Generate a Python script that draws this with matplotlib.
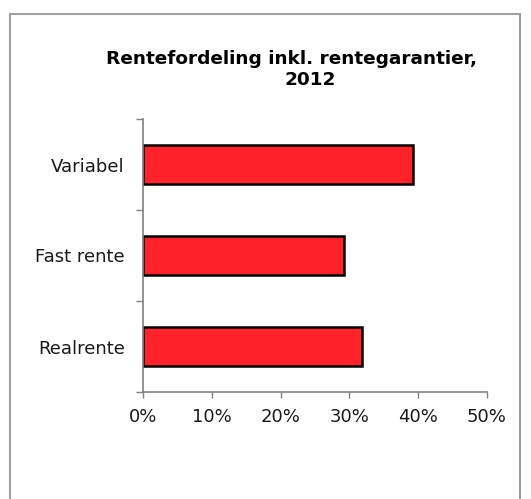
import matplotlib.pyplot as plt
from matplotlib.patches import Rectangle
from matplotlib.ticker import FuncFormatter, FixedLocator

categories = ["Variabel", "Fast rente", "Realrente"]
shares = [0.392, 0.292, 0.318]
x_ticks = [0.0, 0.1, 0.2, 0.3, 0.4, 0.5]

plt.rcParams['font.family'] = ['DejaVu Sans']

fig = plt.figure(figsize=(5.31, 4.99), dpi=100)
fig.patch.set_facecolor('white')

# frame around the chart area, open at the bottom
fig.add_artist(Rectangle((10 / 531, -0.1), 510 / 531, 1 - 14 / 499 + 0.1,
                         transform=fig.transFigure, fill=False,
                         edgecolor='#a0a0a0', linewidth=1.5))

ax = fig.add_axes([143 / 531, 1 - 392 / 499, (487 - 143) / 531, (392 - 119) / 499])

ypos = list(range(len(categories)))
ax.barh(ypos, shares, height=0.42, color='#ff2228', edgecolor='black', linewidth=1.8)

ax.set_xlim(0, 0.5)
ax.set_ylim(len(categories) - 0.5, -0.5)
ax.xaxis.set_major_locator(FixedLocator(x_ticks))
ax.xaxis.set_major_formatter(FuncFormatter(lambda v, p: f"{v * 100:.0f}%"))

# category labels in the middle, tick marks on the boundaries
ax.set_yticks(ypos)
ax.set_yticklabels(categories, fontsize=13, color='#1a1a1a')
ax.tick_params(axis='y', which='major', length=0, pad=13)
ax.set_yticks([-0.5, 0.5, 1.5, 2.5], minor=True)
ax.tick_params(axis='y', which='minor', length=5, color='#808080', width=1)
ax.tick_params(axis='x', length=4, color='#808080', width=1, labelsize=13,
               labelcolor='#1a1a1a', pad=7.5)

for side in ['top', 'right']:
    ax.spines[side].set_visible(False)
for side in ['left', 'bottom']:
    ax.spines[side].set_color('#808080')
    ax.spines[side].set_linewidth(1.2)

# wrapped title, each line centred on its own
fig.text(292 / 531, 1 - 59 / 499, "Rentefordeling inkl. rentegarantier,",
         ha='center', va='center', fontsize=13.3, fontweight='bold')
fig.text(310 / 531, 1 - 80 / 499, "2012",
         ha='center', va='center', fontsize=13.3, fontweight='bold')

fig.savefig('out.png', dpi=100, facecolor='white')
